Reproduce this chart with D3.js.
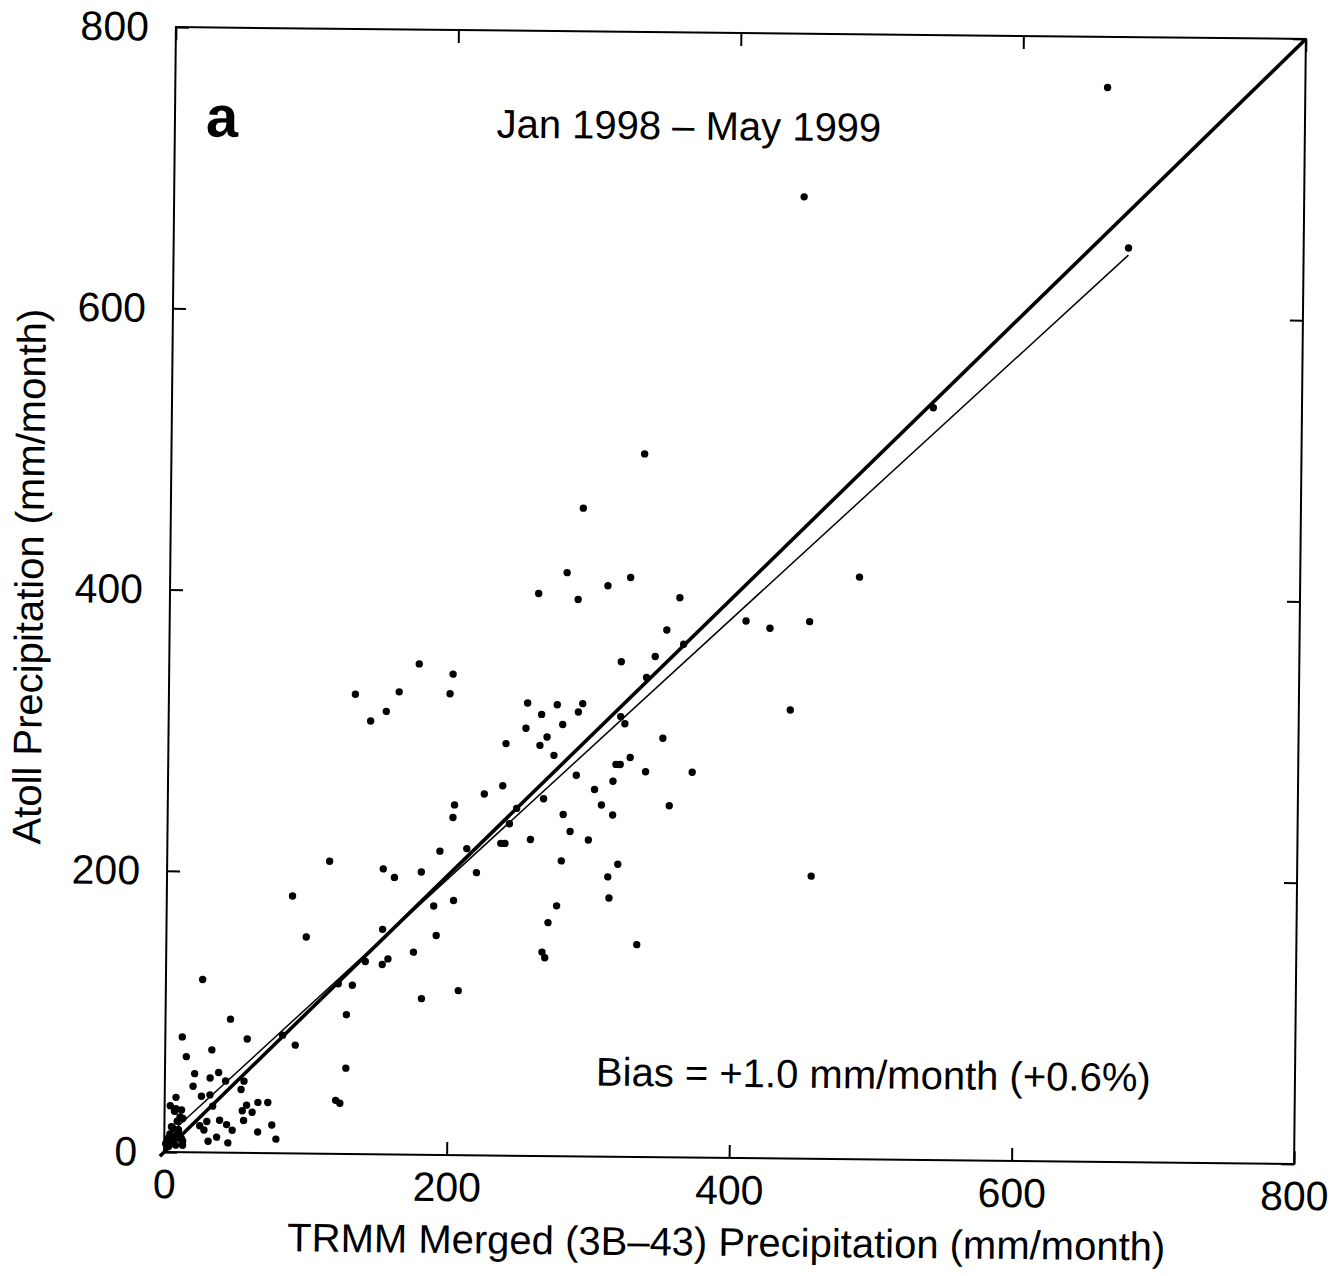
<!DOCTYPE html>
<html>
<head>
<meta charset="utf-8">
<script src="https://cdn.jsdelivr.net/npm/d3@7"></script>
<style>
    body { margin: 0; background: #fff; }
    text { font-family: "Liberation Sans", Arial, Helvetica, sans-serif; fill: #000; }
</style>
</head>
<body>
<div id="chart"></div>
<script>
const trmm = [660, 446, 676, 539, 335, 292, 281, 261, 289, 310, 326, 361, 352, 408, 364, 425, 453, 488, 344, 338,
    440, 350, 338, 371, 355, 456, 320, 177, 201, 132, 163, 199, 154, 143, 254, 275, 293, 290, 264, 279,
    253, 268, 263, 239, 273, 320, 323, 317, 320, 327, 289, 315, 302, 307, 315, 280, 285, 298, 266, 237,
    224, 203, 202, 247, 242, 236, 239, 257, 212, 193, 219, 180, 279, 319, 312, 313, 276, 270, 333, 153,
    161, 115, 189, 203, 191, 153, 99, 266, 268, 207, 181, 89, 175, 141, 153, 157, 132, 122, 128, 128,
    121, 124, 92, 83, 26, 46, 58, 12, 15, 33, 21, 32, 38, 20, 43, 56, 54, 26, 32, 8,
    66, 73, 58, 55, 62, 56, 39, 30, 25, 28, 44, 48, 76, 66, 31, 37, 45, 79, 34, 4,
    8, 12, 7, 11, 13, 9, 6, 5, 10, 4, 9, 6, 12, 3, 4, 1, 13, 13, 12, 8, 3, 6, 10];

const atoll = [764, 684, 650, 535, 500, 461, 415, 400, 396, 406, 412, 398, 375, 382, 365, 377, 382, 414, 356, 341,
    319, 298, 274, 274, 250, 201, 352, 349, 342, 327, 329, 328, 315, 308, 322, 321, 322, 316, 314, 307,
    304, 298, 292, 293, 285, 313, 308, 279, 279, 284, 271, 267, 261, 250, 243, 243, 231, 225, 254, 263,
    257, 249, 240, 247, 236, 222, 222, 225, 218, 216, 201, 201, 210, 208, 199, 184, 178, 166, 151, 203,
    197, 208, 177, 181, 156, 160, 154, 145, 141, 117, 111, 183, 144, 137, 135, 139, 120, 121, 99, 61,
    38, 36, 77, 84, 123, 95, 81, 82, 68, 73, 56, 53, 57, 47, 51, 51, 45, 40, 41, 39,
    36, 36, 34, 30, 29, 23, 23, 22, 19, 16, 20, 16, 20, 15, 8, 11, 7, 10, 33, 33,
    31, 30, 29, 25, 24, 22, 17, 18, 16, 13, 13, 11, 10, 10, 6, 6, 8, 5, 9, 5, 4, 8, 13];

const tickValues = [0, 200, 400, 600, 800];
const fitIntercept = 9.5, fitSlope = 0.94;

const w = 1339, h = 1276,
    plotLeft = 170, plotRight = 1300, plotTop = 33, plotBottom = 1158;

const xScale = d3.scaleLinear().domain([0, 800]).range([plotLeft, plotRight]);
const yScale = d3.scaleLinear().domain([0, 800]).range([plotBottom, plotTop]);

const svg = d3.select("#chart")
    .append("svg")
    .attr("width", w)
    .attr("height", h);

// the scanned figure sits slightly rotated on the page
const g = svg.append("g")
    .attr("transform", "rotate(0.6," + (plotLeft + plotRight) / 2 + "," + (plotTop + plotBottom) / 2 + ")");

const styleAxis = sel => {
    sel.select(".domain").remove();
    sel.selectAll(".tick line").attr("stroke", "#000").attr("stroke-width", 2);
    sel.selectAll("text").attr("font-size", 41).attr("font-family", null);
};

g.append("g")
    .attr("transform", "translate(0," + plotBottom + ")")
    .call(d3.axisBottom(xScale).tickValues(tickValues).tickSizeInner(-13).tickSizeOuter(0).tickPadding(17))
    .call(styleAxis);

g.append("g")
    .attr("transform", "translate(" + plotLeft + ",0)")
    .call(d3.axisLeft(yScale).tickValues(tickValues).tickSizeInner(-13).tickSizeOuter(0).tickPadding(27))
    .call(styleAxis);

g.append("g")
    .attr("transform", "translate(0," + plotTop + ")")
    .call(d3.axisTop(xScale).tickValues(tickValues).tickSizeInner(-13).tickSizeOuter(0).tickFormat(""))
    .call(styleAxis);

g.append("g")
    .attr("transform", "translate(" + plotRight + ",0)")
    .call(d3.axisRight(yScale).tickValues(tickValues).tickSizeInner(-13).tickSizeOuter(0).tickFormat(""))
    .call(styleAxis);

g.append("rect")
    .attr("x", plotLeft)
    .attr("y", plotTop)
    .attr("width", plotRight - plotLeft)
    .attr("height", plotBottom - plotTop)
    .attr("fill", "none")
    .attr("stroke", "#000")
    .attr("stroke-width", 2);

const line = d3.line().x(d => xScale(d[0])).y(d => yScale(d[1]));

g.append("path")
    .datum([[-3, -3], [800, 800]])
    .attr("d", line)
    .attr("fill", "none")
    .attr("stroke", "#000")
    .attr("stroke-width", 3.6);

const xMax = d3.max(trmm);
g.append("path")
    .datum([[0, fitIntercept], [xMax, fitIntercept + fitSlope * xMax]])
    .attr("d", line)
    .attr("fill", "none")
    .attr("stroke", "#000")
    .attr("stroke-width", 1.5);

g.selectAll("circle")
    .data(trmm.map((d, i) => [d, atoll[i]]))
    .enter()
    .append("circle")
    .attr("cx", d => xScale(d[0]))
    .attr("cy", d => yScale(d[1]))
    .attr("r", 3.7)
    .attr("fill", "#000");

g.append("text")
    .attr("x", 201)
    .attr("y", 142)
    .attr("font-size", 58)
    .attr("font-weight", "bold")
    .text("a");

g.append("text")
    .attr("x", 684)
    .attr("y", 140)
    .attr("text-anchor", "middle")
    .attr("font-size", 40)
    .text("Jan 1998 \u2013 May 1999");

g.append("text")
    .attr("x", 601)
    .attr("y", 1087)
    .attr("font-size", 40)
    .text("Bias = +1.0 mm/month (+0.6%)");

g.append("text")
    .attr("x", 733)
    .attr("y", 1256)
    .attr("text-anchor", "middle")
    .attr("font-size", 40)
    .text("TRMM Merged (3B\u201343) Precipitation (mm/month)");

g.append("text")
    .attr("transform", "translate(43,584) rotate(-90)")
    .attr("text-anchor", "middle")
    .attr("font-size", 40)
    .text("Atoll Precipitation (mm/month)");
</script>
</body>
</html>
